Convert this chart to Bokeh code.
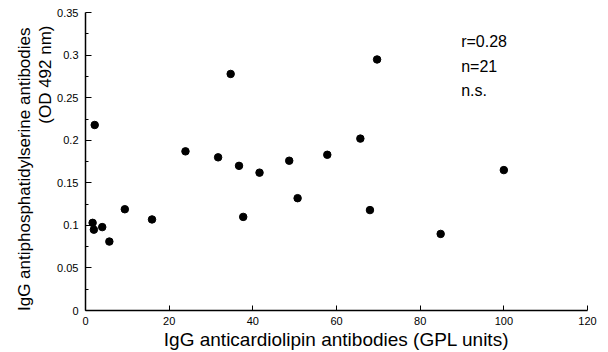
from bokeh.plotting import figure
from bokeh.models import ColumnDataSource, FixedTicker, CustomJSTickFormatter, Label, Range1d, Title
from bokeh.embed import file_html
from bokeh.resources import INLINE

# Data
acl_gpl = [2.2, 1.7, 2.0, 4.0, 5.7, 9.4, 15.9, 23.9, 34.7, 69.7, 31.7, 36.7,
           41.6, 48.7, 57.8, 65.7, 37.7, 50.7, 68.0, 84.9, 100.0]
aps_od = [0.218, 0.103, 0.095, 0.098, 0.081, 0.119, 0.107, 0.187, 0.278, 0.295, 0.180, 0.170,
          0.162, 0.176, 0.183, 0.202, 0.110, 0.132, 0.118, 0.090, 0.165]

x_ticks = [0, 20, 40, 60, 80, 100, 120]
y_ticks = [0, 0.05, 0.1, 0.15, 0.2, 0.25, 0.3, 0.35]
y_minor = [0.025, 0.075, 0.125, 0.175, 0.225, 0.275, 0.325]

x_title = "IgG anticardiolipin antibodies (GPL units)"
y_title_1 = "IgG antiphosphatidylserine antibodies"
y_title_2 = "(OD 492 nm)"
stats = ["r=0.28", "n=21", "n.s."]

FONT = "Liberation Sans"

p = figure(width=608, height=352, output_backend="svg", toolbar_location=None,
           x_range=Range1d(0, 120), y_range=Range1d(0, 0.3502),
           min_border_left=85, min_border_right=21, min_border_top=12, min_border_bottom=0)
p.outline_line_color = None
p.grid.grid_line_color = None
p.background_fill_color = "white"
p.border_fill_color = "white"

src = ColumnDataSource(dict(x=acl_gpl, y=aps_od))
p.scatter("x", "y", source=src, size=7.5, fill_color="black", line_color="black")

xa = p.xaxis[0]
xa.ticker = FixedTicker(ticks=x_ticks)
xa.axis_label = x_title
xa.axis_label_text_font = FONT
xa.axis_label_text_font_size = "19px"
xa.axis_label_text_font_style = "normal"
xa.axis_label_text_color = "black"
xa.axis_label_standoff = 1
xa.major_label_text_font = FONT
xa.major_label_text_font_size = "11px"
xa.major_label_text_color = "black"
xa.major_label_standoff = 6
xa.major_tick_in = 5
xa.major_tick_out = 0
xa.minor_tick_in = 0
xa.minor_tick_out = 0
xa.axis_line_width = 1.5
xa.axis_line_color = "black"
xa.major_tick_line_color = "black"

ya = p.yaxis[0]
ya.ticker = FixedTicker(ticks=y_ticks, minor_ticks=y_minor)
ya.formatter = CustomJSTickFormatter(code="return String(Math.round(tick*1000)/1000);")
ya.major_label_text_font = FONT
ya.major_label_text_font_size = "11px"
ya.major_label_text_color = "black"
ya.major_label_standoff = 7
ya.major_tick_in = 6
ya.major_tick_out = 0
ya.minor_tick_in = 3
ya.minor_tick_out = 0
ya.axis_line_width = 1.5
ya.axis_line_color = "black"
ya.major_tick_line_color = "black"
ya.minor_tick_line_color = "black"

# y-axis title, two lines aligned at their top ends
p.add_layout(Title(text=y_title_2, align="right", text_font=FONT, text_font_size="17px",
                   text_font_style="normal", text_color="black", standoff=0, offset=13), "left")
p.add_layout(Title(text=y_title_1, align="right", text_font=FONT, text_font_size="17px",
                   text_font_style="normal", text_color="black", standoff=0, offset=15), "left")

# statistics annotation
for txt, yy in zip(stats, [0.316, 0.287, 0.2585]):
    p.add_layout(Label(x=89.8, y=yy, text=txt, text_align="left", text_baseline="middle",
                       text_font=FONT, text_font_size="16px", text_color="black"))

open("out.html", "w").write(file_html(p, INLINE))
